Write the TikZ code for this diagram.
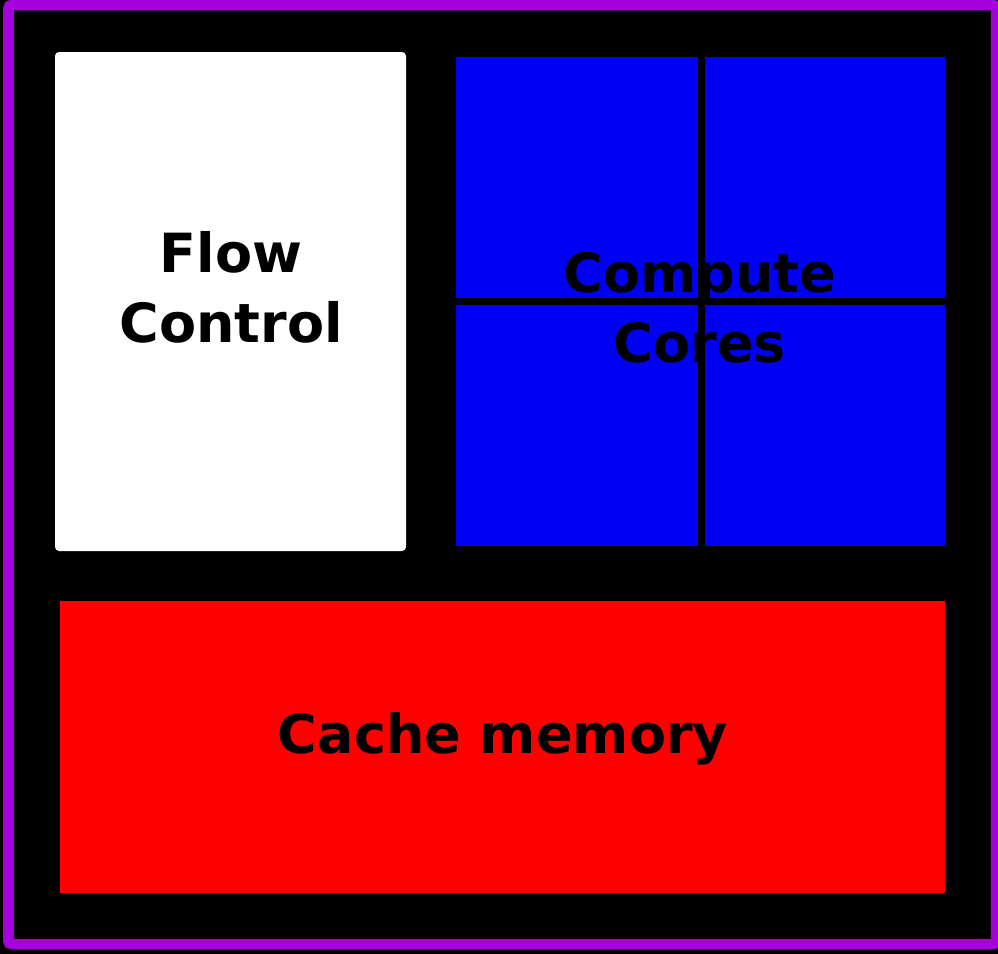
\documentclass[tikz,border=0pt]{standalone}
\usepackage{fontspec}
\newfontfamily\boxfont{DejaVu Sans Bold}
\definecolor{frame}{RGB}{165,0,222}
\definecolor{coreblue}{RGB}{0,0,245}
\definecolor{cachered}{RGB}{255,0,0}
\begin{document}
\begin{tikzpicture}[x=1bp,y=-1bp,
  lbl/.style={font=\boxfont\fontsize{54bp}{70bp}\selectfont, text=black, align=center, inner sep=0pt},
  divider/.style={line width=7bp, black}]
\useasboundingbox (0,0) rectangle (998,954);
\fill[black] (0,0) rectangle (998,954);
\draw[frame, line width=10.5bp, rounded corners=3bp] (8.5,5) rectangle (996,944);
\fill[white, rounded corners=4bp] (55,52) rectangle (406,551);
\fill[coreblue] (456,57) rectangle (945,546);
\coordinate (vtop) at (701,57);
\coordinate (vbot) at (701,546);
\coordinate (hl) at (456,301.5);
\coordinate (hr) at (945,301.5);
\draw[divider] (vtop) -- (vbot);
\draw[divider] (hl) -- (hr);
\fill[cachered] (60,601) rectangle (945,893);
\node[lbl] (flow) at (231,287) {Flow\\Control};
\node[lbl] (cores) at (700,308) {Compute\\Cores};
\node[lbl, anchor=base] (cache) at (503,753) {Cache memory};
\end{tikzpicture}
\end{document}
